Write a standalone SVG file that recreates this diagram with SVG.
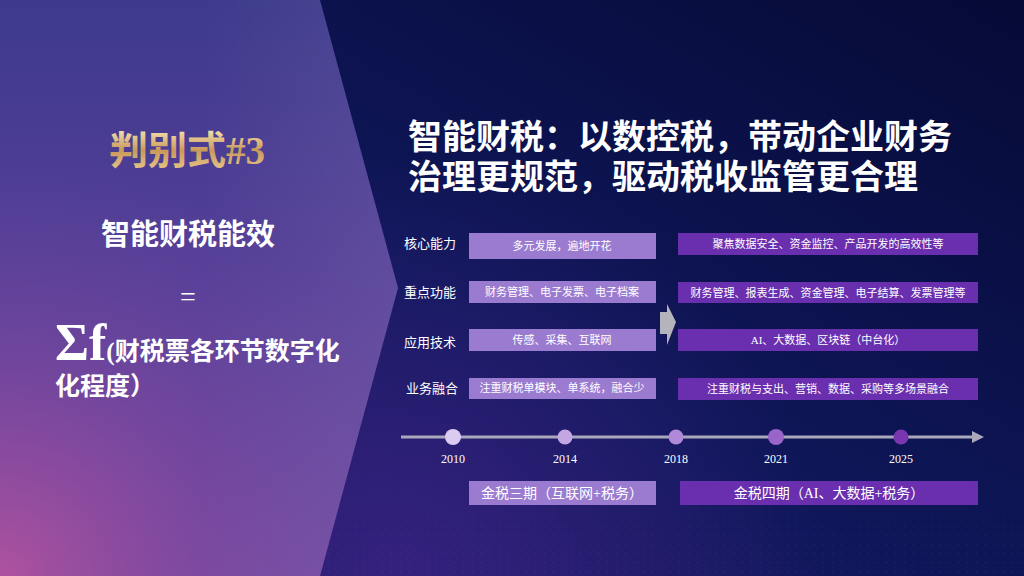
<svg xmlns="http://www.w3.org/2000/svg" width="1024" height="576" viewBox="0 0 1024 576">
<defs>
<linearGradient id="bg" x1="0" y1="1" x2="1" y2="0">
<stop offset="0" stop-color="#2a1c6e"/>
<stop offset="0.45" stop-color="#0f175a"/>
<stop offset="1" stop-color="#060a36"/>
</linearGradient>
<radialGradient id="bgGlow" cx="400" cy="576" r="420" gradientUnits="userSpaceOnUse">
<stop offset="0" stop-color="#3a2384" stop-opacity="0.8"/>
<stop offset="1" stop-color="#3a2384" stop-opacity="0"/>
</radialGradient>
<linearGradient id="panel" x1="0" y1="0" x2="0" y2="1">
<stop offset="0" stop-color="#3d3a8c"/>
<stop offset="0.5" stop-color="#563f98"/>
<stop offset="1" stop-color="#6e48a0"/>
</linearGradient>
<radialGradient id="panelPink" cx="0" cy="576" r="430" gradientUnits="userSpaceOnUse">
<stop offset="0" stop-color="#b2529e" stop-opacity="0.95"/>
<stop offset="0.5" stop-color="#8a4aa0" stop-opacity="0.45"/>
<stop offset="1" stop-color="#6a48a0" stop-opacity="0"/>
</radialGradient>
<linearGradient id="panelEdge" x1="0" y1="0" x2="1" y2="0">
<stop offset="0" stop-color="#ffffff" stop-opacity="0"/>
<stop offset="1" stop-color="#ffffff" stop-opacity="0.07"/>
</linearGradient>
<linearGradient id="gold" x1="0" y1="0" x2="0" y2="1">
<stop offset="0" stop-color="#f6e2b0"/>
<stop offset="0.5" stop-color="#c9995a"/>
<stop offset="1" stop-color="#e9c98e"/>
</linearGradient>
<pattern id="dots" width="9" height="9" patternUnits="userSpaceOnUse">
<circle cx="4.5" cy="4.5" r="0.8" fill="#8a9ae8"/>
</pattern>
<linearGradient id="dotFade" x1="0" y1="0" x2="0" y2="1">
<stop offset="0" stop-color="#fff" stop-opacity="0"/>
<stop offset="1" stop-color="#fff" stop-opacity="1"/>
</linearGradient>
<mask id="dotMask">
<rect x="320" y="420" width="704" height="156" fill="url(#dotFade)"/>
</mask>
<marker id="arrowHead" viewBox="0 0 10 10" refX="5" refY="5" markerWidth="4" markerHeight="4" orient="auto" markerUnits="strokeWidth">
<path d="M0,0 L10,5 L0,10 z" fill="#a9a9bb"/>
</marker>
</defs>
<style>
.cjk{font-family:"Liberation Serif","Noto Sans CJK SC",serif;}
.white{fill:#ffffff;}
.label{font-size:13px;fill:#ffffff;}
.boxtext{font-size:11px;fill:#ffffff;text-anchor:middle;}
.year{font-size:12px;fill:#ffffff;text-anchor:middle;font-family:"Liberation Serif",serif;}
.lbox{fill:#9b7bd0;}
.rbox{fill:#6a2fae;}
.bold{font-weight:700;}
</style>

<!-- background -->
<rect x="0" y="0" width="1024" height="576" fill="url(#bg)"/>
<rect x="0" y="0" width="1024" height="576" fill="url(#bgGlow)"/>
<rect x="320" y="420" width="704" height="156" fill="url(#dots)" opacity="0.13" mask="url(#dotMask)"/>

<!-- left panel -->
<g id="left-panel">
<polygon points="0,0 320,0 398,288 320,576 0,576" fill="url(#panel)"/>
<polygon points="0,0 320,0 398,288 320,576 0,576" fill="url(#panelPink)"/>
<polygon points="200,0 320,0 398,288 320,576 200,576" fill="url(#panelEdge)"/>
</g>

<g id="heading-discriminant">
<text x="187" y="164" text-anchor="middle" class="cjk bold" font-size="39" fill="url(#gold)">判别式#3</text>
</g>
<g id="formula">
<text x="188" y="245" text-anchor="middle" class="cjk bold white" font-size="29">智能财税能效</text>
<text x="188" y="306" text-anchor="middle" class="cjk white" font-size="28">=</text>
<text x="55" y="360" class="cjk bold white"><tspan font-size="52" font-family="Liberation Serif, serif">Σf</tspan><tspan font-size="25">(财税票各环节数字化</tspan></text>
<text x="55" y="395" class="cjk bold white" font-size="25">化程度）</text>
</g>

<g id="title">
<text x="408" y="149" class="cjk bold white" font-size="34">智能财税：以数控税，带动企业财务</text>
<text x="408" y="189" class="cjk bold white" font-size="34">治理更规范，驱动税收监管更合理</text>
</g>

<!-- row labels -->
<g id="label-core"><text x="404" y="248" class="cjk label">核心能力</text></g>
<g id="label-function"><text x="404" y="297" class="cjk label">重点功能</text></g>
<g id="label-tech"><text x="404" y="347" class="cjk label">应用技术</text></g>
<g id="label-business"><text x="406" y="393" class="cjk label">业务融合</text></g>

<!-- left boxes -->
<g id="old-core"><rect x="469" y="233" width="187" height="26" class="lbox"/><text x="562" y="250" class="cjk boxtext">多元发展，遍地开花</text></g>
<g id="old-function"><rect x="469" y="281" width="187" height="22" class="lbox"/><text x="562" y="296" class="cjk boxtext">财务管理、电子发票、电子档案</text></g>
<g id="old-tech"><rect x="469" y="329" width="187" height="22" class="lbox"/><text x="562" y="344" class="cjk boxtext">传感、采集、互联网</text></g>
<g id="old-business"><rect x="469" y="378" width="187" height="21" class="lbox"/><text x="562" y="392" class="cjk boxtext">注重财税单模块、单系统，融合少</text></g>

<!-- right boxes -->
<g id="new-core"><rect x="678" y="233" width="300" height="22" class="rbox"/><text x="828" y="248" class="cjk boxtext">聚焦数据安全、资金监控、产品开发的高效性等</text></g>
<g id="new-function"><rect x="678" y="282" width="300" height="21" class="rbox"/><text x="828" y="297" class="cjk boxtext" font-size="11.5">财务管理、报表生成、资金管理、电子结算、发票管理等</text></g>
<g id="new-tech"><rect x="678" y="329" width="300" height="22" class="rbox"/><text x="828" y="344" class="cjk boxtext">AI、大数据、区块链（中台化）</text></g>
<g id="new-business"><rect x="678" y="378" width="300" height="22" class="rbox"/><text x="828" y="393" class="cjk boxtext">注重财税与支出、营销、数据、采购等多场景融合</text></g>

<!-- connectors -->
<g id="connectors">
<polygon points="660,312 667,312 667,304 676,322 667,345 667,334 660,334" fill="#b4b4bc"/>
<line x1="401" y1="437" x2="978" y2="437" stroke="#a9a9bb" stroke-width="3" marker-end="url(#arrowHead)"/>
</g>

<!-- timeline points -->
<g id="year-2010"><circle cx="453" cy="437" r="8" fill="#dccbf0"/><text x="453" y="463" class="year">2010</text></g>
<g id="year-2014"><circle cx="565" cy="437" r="7.5" fill="#c4a6e2"/><text x="565" y="463" class="year">2014</text></g>
<g id="year-2018"><circle cx="676" cy="437" r="7.5" fill="#b089d8"/><text x="676" y="463" class="year">2018</text></g>
<g id="year-2021"><circle cx="776" cy="437" r="8" fill="#9a64c8"/><text x="776" y="463" class="year">2021</text></g>
<g id="year-2025"><circle cx="901" cy="437" r="7.5" fill="#7a36b0"/><text x="901" y="463" class="year">2025</text></g>

<!-- phases -->
<g id="phase-3"><rect x="469" y="481" width="187" height="24" class="lbox"/><text x="562" y="498" class="cjk white" font-size="14" text-anchor="middle">金税三期（互联网+税务）</text></g>
<g id="phase-4"><rect x="680" y="481" width="298" height="24" class="rbox"/><text x="829" y="498" class="cjk white" font-size="14" text-anchor="middle">金税四期（AI、大数据+税务）</text></g>
</svg>
